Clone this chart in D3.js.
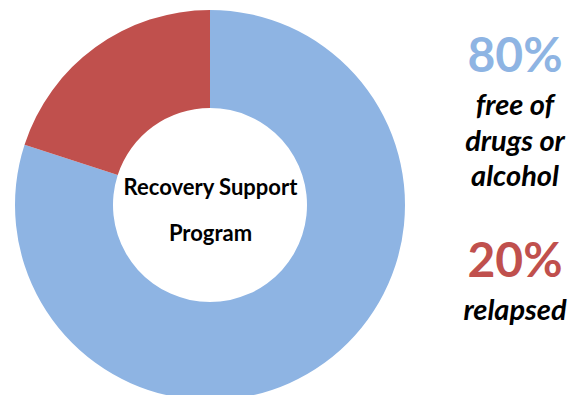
<!DOCTYPE html>
<html>
<head>
<meta charset="utf-8">
<script src="https://cdn.jsdelivr.net/npm/d3@7"></script>
<style>
  html, body { margin: 0; padding: 0; background: #ffffff; }
  svg { display: block; }
  text { font-family: "Lato", "Open Sans", "Noto Sans", sans-serif; font-weight: bold; }
</style>
</head>
<body>
<svg id="chart" width="586" height="395"></svg>
<script>
const categories = ["free of drugs or alcohol", "relapsed"];
const values = [80, 20];
const colors = ["#8EB4E3", "#C0504D"];
const percentLabels = ["80%", "20%"];
const descLines = [["free of", "drugs or", "alcohol"], ["relapsed"]];
const centerLines = ["Recovery Support", "Program"];

const svg = d3.select("#chart");
const cx = 210, cy = 205, outerR = 195, innerR = 97;

const pie = d3.pie().sort(null).value(d => d)(values);
const arc = d3.arc().innerRadius(innerR).outerRadius(outerR);

const g = svg.append("g").attr("transform", `translate(${cx},${cy})`);
g.selectAll("path")
  .data(pie)
  .join("path")
  .attr("d", arc)
  .attr("fill", (d, i) => colors[i]);

g.selectAll("text.center")
  .data(centerLines)
  .join("text")
  .attr("class", "center")
  .attr("x", 0.5)
  .attr("y", (d, i) => -10 + i * 46)
  .attr("text-anchor", "middle")
  .attr("font-size", 22)
  .attr("fill", "#000")
  .text(d => d);

// right side annotations
const rx = 515;
const pctY = [72, 277];
const descStart = [115, 320];
const lineGap = 35.5;

svg.selectAll("text.pct")
  .data(percentLabels)
  .join("text")
  .attr("class", "pct")
  .attr("x", rx)
  .attr("y", (d, i) => pctY[i])
  .attr("text-anchor", "middle")
  .attr("font-size", 48)
  .attr("fill", (d, i) => colors[i])
  .text(d => d);

descLines.forEach((lines, k) => {
  svg.selectAll(null)
    .data(lines)
    .join("text")
    .attr("x", rx)
    .attr("y", (d, i) => descStart[k] + i * lineGap)
    .attr("text-anchor", "middle")
    .attr("font-size", 29)
    .attr("font-style", "italic")
    .attr("fill", "#000")
    .text(d => d);
});
</script>
</body>
</html>
